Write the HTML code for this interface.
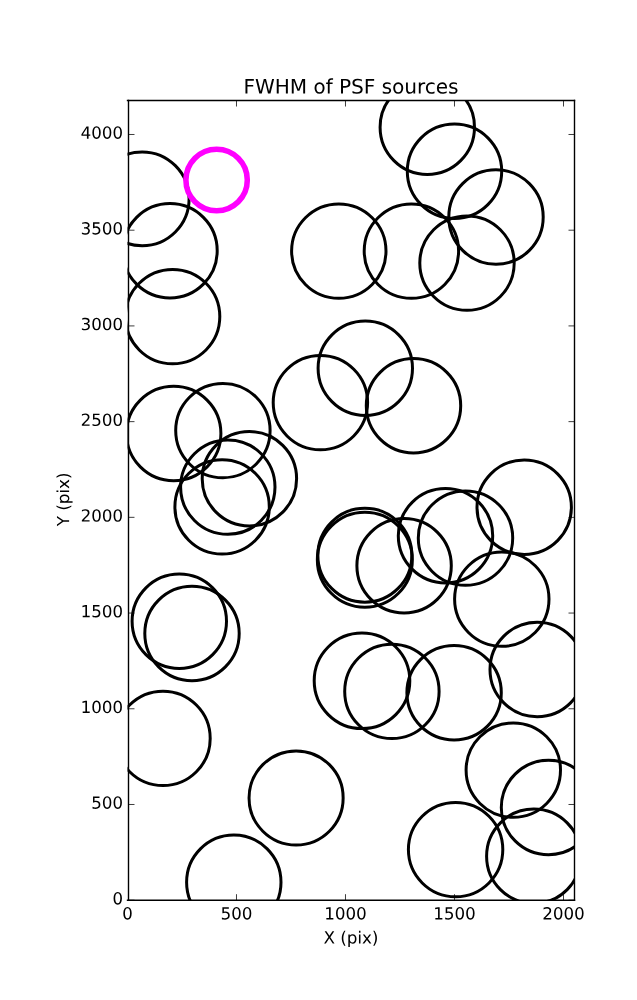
<!DOCTYPE html>
<html><head><meta charset="utf-8"><title>FWHM of PSF sources</title>
<style>html,body{margin:0;padding:0;background:#fff;width:637px;height:1000px;overflow:hidden;font-family:"Liberation Sans",sans-serif}</style>
</head><body>
<svg width="637" height="1000" viewBox="0 0 458.64 720" style="display:block">
 
 <defs>
  <style type="text/css">*{stroke-linejoin: round; stroke-linecap: butt}</style>
 </defs>
 <g id="figure_1">
  <g id="patch_1">
   <path d="M 0 720 
L 458.64 720 
L 458.64 0 
L 0 0 
z
" style="fill: #ffffff"/>
  </g>
  <g id="axes_1">
   <g id="patch_2">
    <path d="M 91.8 648.144 
L 413.64 648.144 
L 413.64 72.36 
L 91.8 72.36 
z
" style="fill: #ffffff"/>
   </g>
   <g transform="scale(0.72)"><clipPath id="axclip"><rect x="127.50" y="100.50" width="447.00" height="799.70"/></clipPath>
<g clip-path="url(#axclip)" fill="none">
<g stroke="#000" stroke-width="3.00">
<circle cx="170.00" cy="250.80" r="47.20"/>
<circle cx="172.60" cy="316.60" r="47.20"/>
<circle cx="427.30" cy="127.20" r="47.20"/>
<circle cx="454.50" cy="171.30" r="47.20"/>
<circle cx="338.80" cy="251.10" r="47.20"/>
<circle cx="411.40" cy="251.10" r="47.20"/>
<circle cx="467.00" cy="263.10" r="47.20"/>
<circle cx="496.00" cy="217.00" r="47.20"/>
<circle cx="173.70" cy="433.50" r="47.20"/>
<circle cx="222.90" cy="430.60" r="47.20"/>
<circle cx="249.40" cy="478.80" r="47.20"/>
<circle cx="227.80" cy="487.10" r="47.20"/>
<circle cx="222.10" cy="506.90" r="47.20"/>
<circle cx="320.40" cy="402.60" r="47.20"/>
<circle cx="365.30" cy="368.20" r="47.20"/>
<circle cx="413.50" cy="405.80" r="47.20"/>
<circle cx="404.10" cy="565.80" r="47.20"/>
<circle cx="445.50" cy="535.80" r="47.20"/>
<circle cx="465.50" cy="538.10" r="47.20"/>
<circle cx="524.20" cy="507.20" r="47.20"/>
<circle cx="501.80" cy="599.10" r="47.20"/>
<circle cx="179.30" cy="621.20" r="47.20"/>
<circle cx="192.00" cy="633.50" r="47.20"/>
<circle cx="163.00" cy="738.40" r="47.20"/>
<circle cx="362.00" cy="680.80" r="47.80"/>
<circle cx="391.90" cy="691.40" r="47.20"/>
<circle cx="454.10" cy="692.70" r="47.20"/>
<circle cx="537.20" cy="669.50" r="47.20"/>
<circle cx="513.30" cy="770.10" r="47.20"/>
<circle cx="548.50" cy="807.50" r="47.20"/>
<circle cx="455.60" cy="849.60" r="47.20"/>
<circle cx="533.80" cy="856.20" r="47.20"/>
<circle cx="233.80" cy="882.20" r="47.20"/>
<circle cx="142.15" cy="198.85" r="46.95"/>
<circle cx="364.85" cy="555.20" r="47.00"/>
<circle cx="364.85" cy="559.70" r="47.50"/>
<circle cx="296.10" cy="797.95" r="47.05"/>
</g>
<circle cx="216.60" cy="180.00" r="30.70" stroke="#ff00ff" stroke-width="5.56"/>
</g></g>
<g id="patch_3">
    <path d="M 92.52 648.144 
L 92.52 72.36 
" style="fill: none; stroke: #000000; stroke-linejoin: miter; stroke-linecap: square"/>
   </g>
   <g id="patch_4">
    <path d="M 413.64 648.144 
L 413.64 72.36 
" style="fill: none; stroke: #000000; stroke-linejoin: miter; stroke-linecap: square"/>
   </g>
   <g id="patch_5">
    <path d="M 91.8 648.144 
L 413.64 648.144 
" style="fill: none; stroke: #000000; stroke-linejoin: miter; stroke-linecap: square"/>
   </g>
   <g id="patch_6">
    <path d="M 91.8 72.36 
L 413.64 72.36 
" style="fill: none; stroke: #000000; stroke-linejoin: miter; stroke-linecap: square"/>
   </g>
   <g id="matplotlib.axis_1">
    <g id="xtick_1">
     <g id="line2d_1">
      <defs>
       <path id="m50c05aba58" d="M 0 0 
L 0 -4.32 
" style="stroke: #000000; stroke-width: 0.55"/>
      </defs>
      <g>
       <use href="#m50c05aba58" x="92.52" y="648.144" style="stroke: #000000; stroke-width: 0.55"/>
      </g>
     </g>
     <g id="line2d_2">
      <defs>
       <path id="m3ef87ba44f" d="M 0 0 
L 0 4.32 
" style="stroke: #000000; stroke-width: 0.55"/>
      </defs>
      <g>
       <use href="#m3ef87ba44f" x="92.52" y="72.36" style="stroke: #000000; stroke-width: 0.55"/>
      </g>
     </g>
     <g id="text_1" transform="translate(0.000 0.720)">
      <!-- 0 -->
      <g transform="translate(87.9825 661.262125) scale(0.12 -0.12)">
       <defs>
        <path id="DejaVuSans-30" d="M 2034 4250 
Q 1547 4250 1301 3770 
Q 1056 3291 1056 2328 
Q 1056 1369 1301 889 
Q 1547 409 2034 409 
Q 2525 409 2770 889 
Q 3016 1369 3016 2328 
Q 3016 3291 2770 3770 
Q 2525 4250 2034 4250 
z
M 2034 4750 
Q 2819 4750 3233 4129 
Q 3647 3509 3647 2328 
Q 3647 1150 3233 529 
Q 2819 -91 2034 -91 
Q 1250 -91 836 529 
Q 422 1150 422 2328 
Q 422 3509 836 4129 
Q 1250 4750 2034 4750 
z
" transform="scale(0.015625)"/>
       </defs>
       <use href="#DejaVuSans-30"/>
      </g>
     </g>
    </g>
    <g id="xtick_2">
     <g id="line2d_3">
      <g>
       <use href="#m50c05aba58" x="170.28" y="648.144" style="stroke: #000000; stroke-width: 0.55"/>
      </g>
     </g>
     <g id="line2d_4">
      <g>
       <use href="#m3ef87ba44f" x="170.28" y="72.36" style="stroke: #000000; stroke-width: 0.55"/>
      </g>
     </g>
     <g id="text_2" transform="translate(0.000 0.720)">
      <!-- 500 -->
      <g transform="translate(158.8275 661.262125) scale(0.12 -0.12)">
       <defs>
        <path id="DejaVuSans-35" d="M 691 4666 
L 3169 4666 
L 3169 4134 
L 1269 4134 
L 1269 2991 
Q 1406 3038 1543 3061 
Q 1681 3084 1819 3084 
Q 2600 3084 3056 2656 
Q 3513 2228 3513 1497 
Q 3513 744 3044 326 
Q 2575 -91 1722 -91 
Q 1428 -91 1123 -41 
Q 819 9 494 109 
L 494 744 
Q 775 591 1075 516 
Q 1375 441 1709 441 
Q 2250 441 2565 725 
Q 2881 1009 2881 1497 
Q 2881 1984 2565 2268 
Q 2250 2553 1709 2553 
Q 1456 2553 1204 2497 
Q 953 2441 691 2322 
L 691 4666 
z
" transform="scale(0.015625)"/>
       </defs>
       <use href="#DejaVuSans-35"/>
       <use href="#DejaVuSans-30" transform="translate(63.623047 0)"/>
       <use href="#DejaVuSans-30" transform="translate(127.246094 0)"/>
      </g>
     </g>
    </g>
    <g id="xtick_3">
     <g id="line2d_5">
      <g>
       <use href="#m50c05aba58" x="248.76" y="648.144" style="stroke: #000000; stroke-width: 0.55"/>
      </g>
     </g>
     <g id="line2d_6">
      <g>
       <use href="#m3ef87ba44f" x="248.76" y="72.36" style="stroke: #000000; stroke-width: 0.55"/>
      </g>
     </g>
     <g id="text_3" transform="translate(0.000 0.720)">
      <!-- 1000 -->
      <g transform="translate(233.49 661.262125) scale(0.12 -0.12)">
       <defs>
        <path id="DejaVuSans-31" d="M 794 531 
L 1825 531 
L 1825 4091 
L 703 3866 
L 703 4441 
L 1819 4666 
L 2450 4666 
L 2450 531 
L 3481 531 
L 3481 0 
L 794 0 
L 794 531 
z
" transform="scale(0.015625)"/>
       </defs>
       <use href="#DejaVuSans-31"/>
       <use href="#DejaVuSans-30" transform="translate(63.623047 0)"/>
       <use href="#DejaVuSans-30" transform="translate(127.246094 0)"/>
       <use href="#DejaVuSans-30" transform="translate(190.869141 0)"/>
      </g>
     </g>
    </g>
    <g id="xtick_4">
     <g id="line2d_7">
      <g>
       <use href="#m50c05aba58" x="327.24" y="648.144" style="stroke: #000000; stroke-width: 0.55"/>
      </g>
     </g>
     <g id="line2d_8">
      <g>
       <use href="#m3ef87ba44f" x="327.24" y="72.36" style="stroke: #000000; stroke-width: 0.55"/>
      </g>
     </g>
     <g id="text_4" transform="translate(0.000 0.720)">
      <!-- 1500 -->
      <g transform="translate(311.97 661.262125) scale(0.12 -0.12)">
       <use href="#DejaVuSans-31"/>
       <use href="#DejaVuSans-35" transform="translate(63.623047 0)"/>
       <use href="#DejaVuSans-30" transform="translate(127.246094 0)"/>
       <use href="#DejaVuSans-30" transform="translate(190.869141 0)"/>
      </g>
     </g>
    </g>
    <g id="xtick_5">
     <g id="line2d_9">
      <g>
       <use href="#m50c05aba58" x="405.72" y="648.144" style="stroke: #000000; stroke-width: 0.55"/>
      </g>
     </g>
     <g id="line2d_10">
      <g>
       <use href="#m3ef87ba44f" x="405.72" y="72.36" style="stroke: #000000; stroke-width: 0.55"/>
      </g>
     </g>
     <g id="text_5" transform="translate(0.000 0.720)">
      <!-- 2000 -->
      <g transform="translate(390.45 661.262125) scale(0.12 -0.12)">
       <defs>
        <path id="DejaVuSans-32" d="M 1228 531 
L 3431 531 
L 3431 0 
L 469 0 
L 469 531 
Q 828 903 1448 1529 
Q 2069 2156 2228 2338 
Q 2531 2678 2651 2914 
Q 2772 3150 2772 3378 
Q 2772 3750 2511 3984 
Q 2250 4219 1831 4219 
Q 1534 4219 1204 4116 
Q 875 4013 500 3803 
L 500 4441 
Q 881 4594 1212 4672 
Q 1544 4750 1819 4750 
Q 2544 4750 2975 4387 
Q 3406 4025 3406 3419 
Q 3406 3131 3298 2873 
Q 3191 2616 2906 2266 
Q 2828 2175 2409 1742 
Q 1991 1309 1228 531 
z
" transform="scale(0.015625)"/>
       </defs>
       <use href="#DejaVuSans-32"/>
       <use href="#DejaVuSans-30" transform="translate(63.623047 0)"/>
       <use href="#DejaVuSans-30" transform="translate(127.246094 0)"/>
       <use href="#DejaVuSans-30" transform="translate(190.869141 0)"/>
      </g>
     </g>
    </g>
    <g id="text_6" transform="translate(0.000 1.440)">
     <!-- X (pix) -->
     <g transform="translate(232.994063 677.875875) scale(0.12 -0.12)">
      <defs>
       <path id="DejaVuSans-58" d="M 403 4666 
L 1081 4666 
L 2241 2931 
L 3406 4666 
L 4084 4666 
L 2584 2425 
L 4184 0 
L 3506 0 
L 2194 1984 
L 872 0 
L 191 0 
L 1856 2491 
L 403 4666 
z
" transform="scale(0.015625)"/>
       <path id="DejaVuSans-20" transform="scale(0.015625)"/>
       <path id="DejaVuSans-28" d="M 1984 4856 
Q 1566 4138 1362 3434 
Q 1159 2731 1159 2009 
Q 1159 1288 1364 580 
Q 1569 -128 1984 -844 
L 1484 -844 
Q 1016 -109 783 600 
Q 550 1309 550 2009 
Q 550 2706 781 3412 
Q 1013 4119 1484 4856 
L 1984 4856 
z
" transform="scale(0.015625)"/>
       <path id="DejaVuSans-70" d="M 1159 525 
L 1159 -1331 
L 581 -1331 
L 581 3500 
L 1159 3500 
L 1159 2969 
Q 1341 3281 1617 3432 
Q 1894 3584 2278 3584 
Q 2916 3584 3314 3078 
Q 3713 2572 3713 1747 
Q 3713 922 3314 415 
Q 2916 -91 2278 -91 
Q 1894 -91 1617 61 
Q 1341 213 1159 525 
z
M 3116 1747 
Q 3116 2381 2855 2742 
Q 2594 3103 2138 3103 
Q 1681 3103 1420 2742 
Q 1159 2381 1159 1747 
Q 1159 1113 1420 752 
Q 1681 391 2138 391 
Q 2594 391 2855 752 
Q 3116 1113 3116 1747 
z
" transform="scale(0.015625)"/>
       <path id="DejaVuSans-69" d="M 603 3500 
L 1178 3500 
L 1178 0 
L 603 0 
L 603 3500 
z
M 603 4863 
L 1178 4863 
L 1178 4134 
L 603 4134 
L 603 4863 
z
" transform="scale(0.015625)"/>
       <path id="DejaVuSans-78" d="M 3513 3500 
L 2247 1797 
L 3578 0 
L 2900 0 
L 1881 1375 
L 863 0 
L 184 0 
L 1544 1831 
L 300 3500 
L 978 3500 
L 1906 2253 
L 2834 3500 
L 3513 3500 
z
" transform="scale(0.015625)"/>
       <path id="DejaVuSans-29" d="M 513 4856 
L 1013 4856 
Q 1481 4119 1714 3412 
Q 1947 2706 1947 2009 
Q 1947 1309 1714 600 
Q 1481 -109 1013 -844 
L 513 -844 
Q 928 -128 1133 580 
Q 1338 1288 1338 2009 
Q 1338 2731 1133 3434 
Q 928 4138 513 4856 
z
" transform="scale(0.015625)"/>
      </defs>
      <use href="#DejaVuSans-58"/>
      <use href="#DejaVuSans-20" transform="translate(68.505859 0)"/>
      <use href="#DejaVuSans-28" transform="translate(100.292969 0)"/>
      <use href="#DejaVuSans-70" transform="translate(139.306641 0)"/>
      <use href="#DejaVuSans-69" transform="translate(202.783203 0)"/>
      <use href="#DejaVuSans-78" transform="translate(230.566406 0)"/>
      <use href="#DejaVuSans-29" transform="translate(289.746094 0)"/>
     </g>
    </g>
   </g>
   <g id="matplotlib.axis_2">
    <g id="ytick_1">
     <g id="line2d_11">
      <defs>
       <path id="ma0f41bf234" d="M 0 0 
L 4.32 0 
" style="stroke: #000000; stroke-width: 0.55"/>
      </defs>
      <g>
       <use href="#ma0f41bf234" x="92.52" y="648.144" style="stroke: #000000; stroke-width: 0.55"/>
      </g>
     </g>
     <g id="line2d_12">
      <defs>
       <path id="me61edf5644" d="M 0 0 
L -4.32 0 
" style="stroke: #000000; stroke-width: 0.55"/>
      </defs>
      <g>
       <use href="#me61edf5644" x="413.64" y="648.144" style="stroke: #000000; stroke-width: 0.55"/>
      </g>
     </g>
     <g id="text_7" transform="translate(0.792 -0.288)">
      <!-- 0 -->
      <g transform="translate(80.165 651.45525) scale(0.12 -0.12)">
       <use href="#DejaVuSans-30"/>
      </g>
     </g>
    </g>
    <g id="ytick_2">
     <g id="line2d_13">
      <g>
       <use href="#ma0f41bf234" x="92.52" y="579.229714" style="stroke: #000000; stroke-width: 0.55"/>
      </g>
     </g>
     <g id="line2d_14">
      <g>
       <use href="#me61edf5644" x="413.64" y="579.229714" style="stroke: #000000; stroke-width: 0.55"/>
      </g>
     </g>
     <g id="text_8" transform="translate(0.792 -0.288)">
      <!-- 500 -->
      <g transform="translate(64.895 582.540964) scale(0.12 -0.12)">
       <use href="#DejaVuSans-35"/>
       <use href="#DejaVuSans-30" transform="translate(63.623047 0)"/>
       <use href="#DejaVuSans-30" transform="translate(127.246094 0)"/>
      </g>
     </g>
    </g>
    <g id="ytick_3">
     <g id="line2d_15">
      <g>
       <use href="#ma0f41bf234" x="92.52" y="510.315429" style="stroke: #000000; stroke-width: 0.55"/>
      </g>
     </g>
     <g id="line2d_16">
      <g>
       <use href="#me61edf5644" x="413.64" y="510.315429" style="stroke: #000000; stroke-width: 0.55"/>
      </g>
     </g>
     <g id="text_9" transform="translate(0.792 -0.288)">
      <!-- 1000 -->
      <g transform="translate(57.26 513.626679) scale(0.12 -0.12)">
       <use href="#DejaVuSans-31"/>
       <use href="#DejaVuSans-30" transform="translate(63.623047 0)"/>
       <use href="#DejaVuSans-30" transform="translate(127.246094 0)"/>
       <use href="#DejaVuSans-30" transform="translate(190.869141 0)"/>
      </g>
     </g>
    </g>
    <g id="ytick_4">
     <g id="line2d_17">
      <g>
       <use href="#ma0f41bf234" x="92.52" y="441.401143" style="stroke: #000000; stroke-width: 0.55"/>
      </g>
     </g>
     <g id="line2d_18">
      <g>
       <use href="#me61edf5644" x="413.64" y="441.401143" style="stroke: #000000; stroke-width: 0.55"/>
      </g>
     </g>
     <g id="text_10" transform="translate(0.792 -0.288)">
      <!-- 1500 -->
      <g transform="translate(57.26 444.712393) scale(0.12 -0.12)">
       <use href="#DejaVuSans-31"/>
       <use href="#DejaVuSans-35" transform="translate(63.623047 0)"/>
       <use href="#DejaVuSans-30" transform="translate(127.246094 0)"/>
       <use href="#DejaVuSans-30" transform="translate(190.869141 0)"/>
      </g>
     </g>
    </g>
    <g id="ytick_5">
     <g id="line2d_19">
      <g>
       <use href="#ma0f41bf234" x="92.52" y="372.486857" style="stroke: #000000; stroke-width: 0.55"/>
      </g>
     </g>
     <g id="line2d_20">
      <g>
       <use href="#me61edf5644" x="413.64" y="372.486857" style="stroke: #000000; stroke-width: 0.55"/>
      </g>
     </g>
     <g id="text_11" transform="translate(0.792 -0.288)">
      <!-- 2000 -->
      <g transform="translate(57.26 375.798107) scale(0.12 -0.12)">
       <use href="#DejaVuSans-32"/>
       <use href="#DejaVuSans-30" transform="translate(63.623047 0)"/>
       <use href="#DejaVuSans-30" transform="translate(127.246094 0)"/>
       <use href="#DejaVuSans-30" transform="translate(190.869141 0)"/>
      </g>
     </g>
    </g>
    <g id="ytick_6">
     <g id="line2d_21">
      <g>
       <use href="#ma0f41bf234" x="92.52" y="303.572571" style="stroke: #000000; stroke-width: 0.55"/>
      </g>
     </g>
     <g id="line2d_22">
      <g>
       <use href="#me61edf5644" x="413.64" y="303.572571" style="stroke: #000000; stroke-width: 0.55"/>
      </g>
     </g>
     <g id="text_12" transform="translate(0.792 -0.288)">
      <!-- 2500 -->
      <g transform="translate(57.26 306.883821) scale(0.12 -0.12)">
       <use href="#DejaVuSans-32"/>
       <use href="#DejaVuSans-35" transform="translate(63.623047 0)"/>
       <use href="#DejaVuSans-30" transform="translate(127.246094 0)"/>
       <use href="#DejaVuSans-30" transform="translate(190.869141 0)"/>
      </g>
     </g>
    </g>
    <g id="ytick_7">
     <g id="line2d_23">
      <g>
       <use href="#ma0f41bf234" x="92.52" y="234.658286" style="stroke: #000000; stroke-width: 0.55"/>
      </g>
     </g>
     <g id="line2d_24">
      <g>
       <use href="#me61edf5644" x="413.64" y="234.658286" style="stroke: #000000; stroke-width: 0.55"/>
      </g>
     </g>
     <g id="text_13" transform="translate(0.792 -0.288)">
      <!-- 3000 -->
      <g transform="translate(57.26 237.969536) scale(0.12 -0.12)">
       <defs>
        <path id="DejaVuSans-33" d="M 2597 2516 
Q 3050 2419 3304 2112 
Q 3559 1806 3559 1356 
Q 3559 666 3084 287 
Q 2609 -91 1734 -91 
Q 1441 -91 1130 -33 
Q 819 25 488 141 
L 488 750 
Q 750 597 1062 519 
Q 1375 441 1716 441 
Q 2309 441 2620 675 
Q 2931 909 2931 1356 
Q 2931 1769 2642 2001 
Q 2353 2234 1838 2234 
L 1294 2234 
L 1294 2753 
L 1863 2753 
Q 2328 2753 2575 2939 
Q 2822 3125 2822 3475 
Q 2822 3834 2567 4026 
Q 2313 4219 1838 4219 
Q 1578 4219 1281 4162 
Q 984 4106 628 3988 
L 628 4550 
Q 988 4650 1302 4700 
Q 1616 4750 1894 4750 
Q 2613 4750 3031 4423 
Q 3450 4097 3450 3541 
Q 3450 3153 3228 2886 
Q 3006 2619 2597 2516 
z
" transform="scale(0.015625)"/>
       </defs>
       <use href="#DejaVuSans-33"/>
       <use href="#DejaVuSans-30" transform="translate(63.623047 0)"/>
       <use href="#DejaVuSans-30" transform="translate(127.246094 0)"/>
       <use href="#DejaVuSans-30" transform="translate(190.869141 0)"/>
      </g>
     </g>
    </g>
    <g id="ytick_8">
     <g id="line2d_25">
      <g>
       <use href="#ma0f41bf234" x="92.52" y="165.744" style="stroke: #000000; stroke-width: 0.55"/>
      </g>
     </g>
     <g id="line2d_26">
      <g>
       <use href="#me61edf5644" x="413.64" y="165.744" style="stroke: #000000; stroke-width: 0.55"/>
      </g>
     </g>
     <g id="text_14" transform="translate(0.792 -0.288)">
      <!-- 3500 -->
      <g transform="translate(57.26 169.05525) scale(0.12 -0.12)">
       <use href="#DejaVuSans-33"/>
       <use href="#DejaVuSans-35" transform="translate(63.623047 0)"/>
       <use href="#DejaVuSans-30" transform="translate(127.246094 0)"/>
       <use href="#DejaVuSans-30" transform="translate(190.869141 0)"/>
      </g>
     </g>
    </g>
    <g id="ytick_9">
     <g id="line2d_27">
      <g>
       <use href="#ma0f41bf234" x="92.52" y="96.829714" style="stroke: #000000; stroke-width: 0.55"/>
      </g>
     </g>
     <g id="line2d_28">
      <g>
       <use href="#me61edf5644" x="413.64" y="96.829714" style="stroke: #000000; stroke-width: 0.55"/>
      </g>
     </g>
     <g id="text_15" transform="translate(0.792 -0.288)">
      <!-- 4000 -->
      <g transform="translate(57.26 100.140964) scale(0.12 -0.12)">
       <defs>
        <path id="DejaVuSans-34" d="M 2419 4116 
L 825 1625 
L 2419 1625 
L 2419 4116 
z
M 2253 4666 
L 3047 4666 
L 3047 1625 
L 3713 1625 
L 3713 1100 
L 3047 1100 
L 3047 0 
L 2419 0 
L 2419 1100 
L 313 1100 
L 313 1709 
L 2253 4666 
z
" transform="scale(0.015625)"/>
       </defs>
       <use href="#DejaVuSans-34"/>
       <use href="#DejaVuSans-30" transform="translate(63.623047 0)"/>
       <use href="#DejaVuSans-30" transform="translate(127.246094 0)"/>
       <use href="#DejaVuSans-30" transform="translate(190.869141 0)"/>
      </g>
     </g>
    </g>
    <g id="text_16" transform="translate(0.000 -0.720)">
     <!-- Y (pix) -->
     <g transform="translate(49.764375 379.532625) rotate(-90) scale(0.12 -0.12)">
      <defs>
       <path id="DejaVuSans-59" d="M -13 4666 
L 666 4666 
L 1959 2747 
L 3244 4666 
L 3922 4666 
L 2272 2222 
L 2272 0 
L 1638 0 
L 1638 2222 
L -13 4666 
z
" transform="scale(0.015625)"/>
      </defs>
      <use href="#DejaVuSans-59"/>
      <use href="#DejaVuSans-20" transform="translate(61.083984 0)"/>
      <use href="#DejaVuSans-28" transform="translate(92.871094 0)"/>
      <use href="#DejaVuSans-70" transform="translate(131.884766 0)"/>
      <use href="#DejaVuSans-69" transform="translate(195.361328 0)"/>
      <use href="#DejaVuSans-78" transform="translate(223.144531 0)"/>
      <use href="#DejaVuSans-29" transform="translate(282.324219 0)"/>
     </g>
    </g>
   </g>
   <g id="text_17">
    <!-- FWHM of PSF sources -->
    <g transform="translate(175.31775 67.36) scale(0.144 -0.144)">
     <defs>
      <path id="DejaVuSans-46" d="M 628 4666 
L 3309 4666 
L 3309 4134 
L 1259 4134 
L 1259 2759 
L 3109 2759 
L 3109 2228 
L 1259 2228 
L 1259 0 
L 628 0 
L 628 4666 
z
" transform="scale(0.015625)"/>
      <path id="DejaVuSans-57" d="M 213 4666 
L 850 4666 
L 1831 722 
L 2809 4666 
L 3519 4666 
L 4500 722 
L 5478 4666 
L 6119 4666 
L 4947 0 
L 4153 0 
L 3169 4050 
L 2175 0 
L 1381 0 
L 213 4666 
z
" transform="scale(0.015625)"/>
      <path id="DejaVuSans-48" d="M 628 4666 
L 1259 4666 
L 1259 2753 
L 3553 2753 
L 3553 4666 
L 4184 4666 
L 4184 0 
L 3553 0 
L 3553 2222 
L 1259 2222 
L 1259 0 
L 628 0 
L 628 4666 
z
" transform="scale(0.015625)"/>
      <path id="DejaVuSans-4d" d="M 628 4666 
L 1569 4666 
L 2759 1491 
L 3956 4666 
L 4897 4666 
L 4897 0 
L 4281 0 
L 4281 4097 
L 3078 897 
L 2444 897 
L 1241 4097 
L 1241 0 
L 628 0 
L 628 4666 
z
" transform="scale(0.015625)"/>
      <path id="DejaVuSans-6f" d="M 1959 3097 
Q 1497 3097 1228 2736 
Q 959 2375 959 1747 
Q 959 1119 1226 758 
Q 1494 397 1959 397 
Q 2419 397 2687 759 
Q 2956 1122 2956 1747 
Q 2956 2369 2687 2733 
Q 2419 3097 1959 3097 
z
M 1959 3584 
Q 2709 3584 3137 3096 
Q 3566 2609 3566 1747 
Q 3566 888 3137 398 
Q 2709 -91 1959 -91 
Q 1206 -91 779 398 
Q 353 888 353 1747 
Q 353 2609 779 3096 
Q 1206 3584 1959 3584 
z
" transform="scale(0.015625)"/>
      <path id="DejaVuSans-66" d="M 2375 4863 
L 2375 4384 
L 1825 4384 
Q 1516 4384 1395 4259 
Q 1275 4134 1275 3809 
L 1275 3500 
L 2222 3500 
L 2222 3053 
L 1275 3053 
L 1275 0 
L 697 0 
L 697 3053 
L 147 3053 
L 147 3500 
L 697 3500 
L 697 3744 
Q 697 4328 969 4595 
Q 1241 4863 1831 4863 
L 2375 4863 
z
" transform="scale(0.015625)"/>
      <path id="DejaVuSans-50" d="M 1259 4147 
L 1259 2394 
L 2053 2394 
Q 2494 2394 2734 2622 
Q 2975 2850 2975 3272 
Q 2975 3691 2734 3919 
Q 2494 4147 2053 4147 
L 1259 4147 
z
M 628 4666 
L 2053 4666 
Q 2838 4666 3239 4311 
Q 3641 3956 3641 3272 
Q 3641 2581 3239 2228 
Q 2838 1875 2053 1875 
L 1259 1875 
L 1259 0 
L 628 0 
L 628 4666 
z
" transform="scale(0.015625)"/>
      <path id="DejaVuSans-53" d="M 3425 4513 
L 3425 3897 
Q 3066 4069 2747 4153 
Q 2428 4238 2131 4238 
Q 1616 4238 1336 4038 
Q 1056 3838 1056 3469 
Q 1056 3159 1242 3001 
Q 1428 2844 1947 2747 
L 2328 2669 
Q 3034 2534 3370 2195 
Q 3706 1856 3706 1288 
Q 3706 609 3251 259 
Q 2797 -91 1919 -91 
Q 1588 -91 1214 -16 
Q 841 59 441 206 
L 441 856 
Q 825 641 1194 531 
Q 1563 422 1919 422 
Q 2459 422 2753 634 
Q 3047 847 3047 1241 
Q 3047 1584 2836 1778 
Q 2625 1972 2144 2069 
L 1759 2144 
Q 1053 2284 737 2584 
Q 422 2884 422 3419 
Q 422 4038 858 4394 
Q 1294 4750 2059 4750 
Q 2388 4750 2728 4690 
Q 3069 4631 3425 4513 
z
" transform="scale(0.015625)"/>
      <path id="DejaVuSans-73" d="M 2834 3397 
L 2834 2853 
Q 2591 2978 2328 3040 
Q 2066 3103 1784 3103 
Q 1356 3103 1142 2972 
Q 928 2841 928 2578 
Q 928 2378 1081 2264 
Q 1234 2150 1697 2047 
L 1894 2003 
Q 2506 1872 2764 1633 
Q 3022 1394 3022 966 
Q 3022 478 2636 193 
Q 2250 -91 1575 -91 
Q 1294 -91 989 -36 
Q 684 19 347 128 
L 347 722 
Q 666 556 975 473 
Q 1284 391 1588 391 
Q 1994 391 2212 530 
Q 2431 669 2431 922 
Q 2431 1156 2273 1281 
Q 2116 1406 1581 1522 
L 1381 1569 
Q 847 1681 609 1914 
Q 372 2147 372 2553 
Q 372 3047 722 3315 
Q 1072 3584 1716 3584 
Q 2034 3584 2315 3537 
Q 2597 3491 2834 3397 
z
" transform="scale(0.015625)"/>
      <path id="DejaVuSans-75" d="M 544 1381 
L 544 3500 
L 1119 3500 
L 1119 1403 
Q 1119 906 1312 657 
Q 1506 409 1894 409 
Q 2359 409 2629 706 
Q 2900 1003 2900 1516 
L 2900 3500 
L 3475 3500 
L 3475 0 
L 2900 0 
L 2900 538 
Q 2691 219 2414 64 
Q 2138 -91 1772 -91 
Q 1169 -91 856 284 
Q 544 659 544 1381 
z
M 1991 3584 
L 1991 3584 
z
" transform="scale(0.015625)"/>
      <path id="DejaVuSans-72" d="M 2631 2963 
Q 2534 3019 2420 3045 
Q 2306 3072 2169 3072 
Q 1681 3072 1420 2755 
Q 1159 2438 1159 1844 
L 1159 0 
L 581 0 
L 581 3500 
L 1159 3500 
L 1159 2956 
Q 1341 3275 1631 3429 
Q 1922 3584 2338 3584 
Q 2397 3584 2469 3576 
Q 2541 3569 2628 3553 
L 2631 2963 
z
" transform="scale(0.015625)"/>
      <path id="DejaVuSans-63" d="M 3122 3366 
L 3122 2828 
Q 2878 2963 2633 3030 
Q 2388 3097 2138 3097 
Q 1578 3097 1268 2742 
Q 959 2388 959 1747 
Q 959 1106 1268 751 
Q 1578 397 2138 397 
Q 2388 397 2633 464 
Q 2878 531 3122 666 
L 3122 134 
Q 2881 22 2623 -34 
Q 2366 -91 2075 -91 
Q 1284 -91 818 406 
Q 353 903 353 1747 
Q 353 2603 823 3093 
Q 1294 3584 2113 3584 
Q 2378 3584 2631 3529 
Q 2884 3475 3122 3366 
z
" transform="scale(0.015625)"/>
      <path id="DejaVuSans-65" d="M 3597 1894 
L 3597 1613 
L 953 1613 
Q 991 1019 1311 708 
Q 1631 397 2203 397 
Q 2534 397 2845 478 
Q 3156 559 3463 722 
L 3463 178 
Q 3153 47 2828 -22 
Q 2503 -91 2169 -91 
Q 1331 -91 842 396 
Q 353 884 353 1716 
Q 353 2575 817 3079 
Q 1281 3584 2069 3584 
Q 2775 3584 3186 3129 
Q 3597 2675 3597 1894 
z
M 3022 2063 
Q 3016 2534 2758 2815 
Q 2500 3097 2075 3097 
Q 1594 3097 1305 2825 
Q 1016 2553 972 2059 
L 3022 2063 
z
" transform="scale(0.015625)"/>
     </defs>
     <use href="#DejaVuSans-46"/>
     <use href="#DejaVuSans-57" transform="translate(57.519531 0)"/>
     <use href="#DejaVuSans-48" transform="translate(156.396484 0)"/>
     <use href="#DejaVuSans-4d" transform="translate(231.591797 0)"/>
     <use href="#DejaVuSans-20" transform="translate(317.871094 0)"/>
     <use href="#DejaVuSans-6f" transform="translate(349.658203 0)"/>
     <use href="#DejaVuSans-66" transform="translate(410.839844 0)"/>
     <use href="#DejaVuSans-20" transform="translate(446.044922 0)"/>
     <use href="#DejaVuSans-50" transform="translate(477.832031 0)"/>
     <use href="#DejaVuSans-53" transform="translate(538.134766 0)"/>
     <use href="#DejaVuSans-46" transform="translate(601.611328 0)"/>
     <use href="#DejaVuSans-20" transform="translate(659.130859 0)"/>
     <use href="#DejaVuSans-73" transform="translate(690.917969 0)"/>
     <use href="#DejaVuSans-6f" transform="translate(743.017578 0)"/>
     <use href="#DejaVuSans-75" transform="translate(804.199219 0)"/>
     <use href="#DejaVuSans-72" transform="translate(867.578125 0)"/>
     <use href="#DejaVuSans-63" transform="translate(906.441406 0)"/>
     <use href="#DejaVuSans-65" transform="translate(961.421875 0)"/>
     <use href="#DejaVuSans-73" transform="translate(1022.945312 0)"/>
    </g>
   </g>
  </g>
 </g>
</svg>

</body></html>
